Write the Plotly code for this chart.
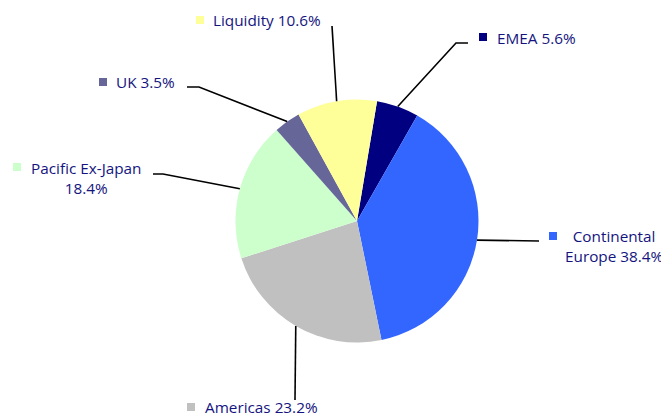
import math
import plotly.graph_objects as go

# page body has an 8px margin, so the figure starts at (8, 8) in the window
OFF = 8
W, H = 669 - OFF, 416 - OFF

regions = ["EMEA", "Continental Europe", "Americas", "Pacific Ex-Japan", "UK", "Liquidity"]
shares = [5.6, 38.4, 23.2, 18.4, 3.5, 10.6]
label_texts = ["EMEA 5.6%", "Continental<br>Europe 38.4%", "Americas 23.2%",
               "Pacific Ex-Japan<br>18.4%", "UK 3.5%", "Liquidity 10.6%"]
colors = ["#000080", "#3366FF", "#C0C0C0", "#CCFFCC", "#666699", "#FFFF99"]

# layout constants (window pixels)
CX, CY, R = 357, 221, 121.5
ROT = 9.5

def px(x):
    return (x - OFF) / W

def py(y):
    return 1 - (y - OFF) / H

fig = go.Figure()
fig.add_trace(go.Pie(
    labels=regions, values=shares, sort=False, direction="clockwise",
    rotation=ROT, marker=dict(colors=colors, line=dict(width=0)),
    textinfo="none", hoverinfo="label+percent", showlegend=False,
    domain=dict(x=[px(CX - R), px(CX + R)], y=[py(CY + R), py(CY - R)]),
))

layout_info = {
    "EMEA": dict(path=[(456, 43), (468, 43)], sq=(479, 33), txt=(495, 38), anchor="left"),
    "Continental Europe": dict(path=[(539, 241)], sq=(549, 232), txt=(614, 246), anchor="center"),
    "Americas": dict(path=[(295, 400)], sq=(187, 403), txt=(203, 407), anchor="left"),
    "Pacific Ex-Japan": dict(path=[(163, 174), (153, 174)], sq=(13, 163), txt=(86, 178), anchor="center"),
    "UK": dict(path=[(199, 87), (187, 87)], sq=(99, 78), txt=(114, 82), anchor="left"),
    "Liquidity": dict(path=[(332, 26)], sq=(196, 16), txt=(211, 20), anchor="left"),
}

total = sum(shares)
cum = 0.0
shapes = []
annotations = []
for name, v, txt, col in zip(regions, shares, label_texts, colors):
    mid = math.radians(ROT + (cum + v / 2) / total * 360)
    cum += v
    sx = CX + R * math.sin(mid)
    sy = CY - R * math.cos(mid)
    info = layout_info[name]
    pts = [(sx, sy)] + info["path"]
    path = "M " + " L ".join(f"{px(x)},{py(y)}" for x, y in pts)
    shapes.append(dict(type="path", xref="paper", yref="paper", path=path,
                       line=dict(color="black", width=1.6)))
    qx, qy = info["sq"]
    shapes.append(dict(type="rect", xref="paper", yref="paper",
                       x0=px(qx), x1=px(qx + 8), y0=py(qy + 8), y1=py(qy),
                       fillcolor=col, line=dict(width=0)))
    tx, ty = info["txt"]
    annotations.append(dict(text=txt, x=px(tx), y=py(ty), xref="paper", yref="paper",
                            xanchor=info["anchor"], yanchor="middle", showarrow=False,
                            align="center",
                            font=dict(family="Open Sans", size=15.3, color="#141480")))

fig.update_layout(
    width=W, height=H, margin=dict(l=0, r=0, t=0, b=0),
    paper_bgcolor="white", plot_bgcolor="white",
    shapes=shapes, annotations=annotations,
)
fig.write_html("out.html")
